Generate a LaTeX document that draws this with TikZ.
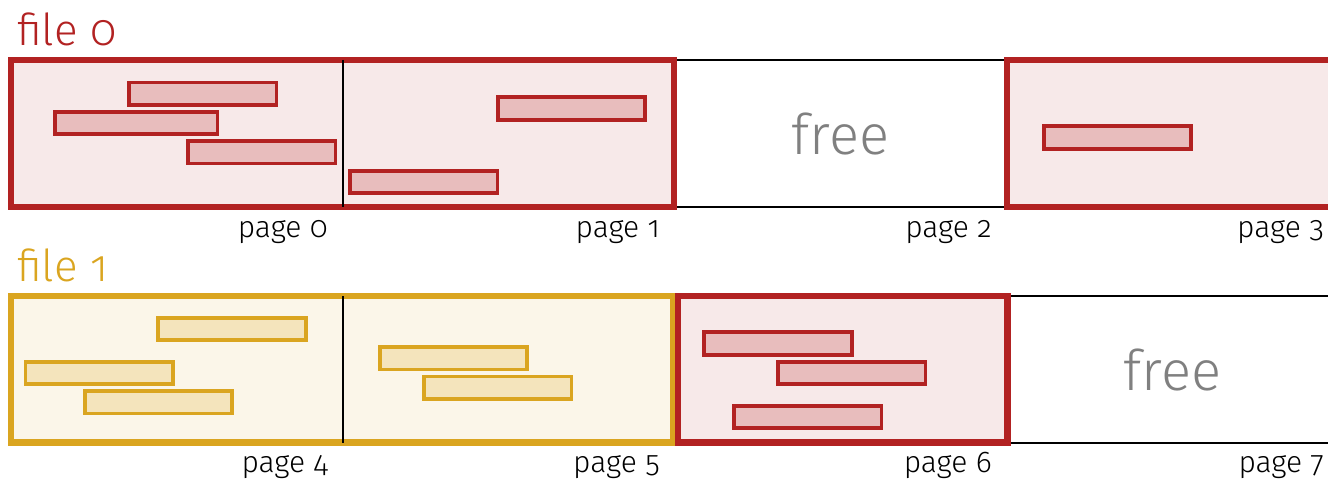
\documentclass[tikz,border=0pt]{standalone}
\usepackage{fontspec}
\setmainfont{Fira Sans}[UprightFont={* Light},Numbers=OldStyle]
\definecolor{fred}{RGB}{178,34,34}
\definecolor{fgold}{RGB}{218,165,32}
\definecolor{fgray}{RGB}{128,128,128}
\tikzset{
  pageline/.style={black,line width=2pt},
  filebox/.style={line width=6.2pt,draw=#1,fill=#1!10},
  rec/.style={draw=#1,fill=#1!30,line width=3.8pt,rectangle,inner sep=0pt,
              minimum width=147.5pt,minimum height=22.5pt},
  pagelabel/.style={anchor=base east,inner sep=0pt,font=\fontsize{30}{30}\selectfont},
  filelabel/.style={anchor=base west,inner sep=0pt,text=#1,font=\fontsize{44}{44}\selectfont},
  freelabel/.style={anchor=base,inner sep=0pt,text=fgray,font=\fontsize{56}{56}\selectfont},
}
\begin{document}
\begin{tikzpicture}[x=1pt,y=-1pt]
\useasboundingbox (0,0) rectangle (1328,481);
\clip (0,0) rectangle (1328,481);

% ---- file 0 row: page outlines ----
\draw[pageline] (11,60) -- (1345,60);
\draw[pageline] (11,207) -- (1345,207);
\filldraw[filebox=fred] (11,60) rectangle (674,207);
\draw[pageline] (343,60) -- (343,207);
\filldraw[filebox=fred] (1007,60) rectangle (1350,207);

% ---- file 1 row: page outlines ----
\draw[pageline] (11,296) -- (1345,296);
\draw[pageline] (11,442.5) -- (1345,442.5);
\filldraw[filebox=fgold] (11,296) rectangle (673,442.5);
\draw[pageline] (343,296) -- (343,442.5);
\filldraw[filebox=fred] (678,296) rectangle (1007.5,442.5);

% ---- records in file 0 ----
\node[rec=fred] (r1) at (202.7,93.7) {};
\node[rec=fred,minimum width=162.5pt] (r2) at (136.2,123) {};
\node[rec=fred] (r3) at (261.7,152.2) {};
\node[rec=fred] (r4) at (571.5,108.4) {};
\node[rec=fred] (r5) at (423.8,182) {};
\node[rec=fred] (r6) at (1117.5,137.5) {};

% ---- records in file 1 ----
\node[rec=fgold] (y1) at (232,329) {};
\node[rec=fgold] (y2) at (99.3,373) {};
\node[rec=fgold] (y3) at (158.5,402.2) {};
\node[rec=fgold] (y4) at (453.5,358.2) {};
\node[rec=fgold] (y5) at (497.8,387.7) {};
\node[rec=fred] (r7) at (778,343.5) {};
\node[rec=fred] (r8) at (851.8,373) {};
\node[rec=fred] (r9) at (807.7,417) {};

% ---- labels ----
\node[filelabel=fred] (f0) at (17,46) {file 0};
\node[filelabel=fgold] (f1) at (17,281.7) {file 1};
\node[freelabel] (free0) at (840.5,154.3) {free};
\node[freelabel] (free1) at (1172.5,390) {free};

\node[pagelabel] (p0) at (328,237.5) {page 0};
\node[pagelabel] (p1) at (660,237.5) {page 1};
\node[pagelabel] (p2) at (992,237.5) {page 2};
\node[pagelabel] (p3) at (1324,237.5) {page 3};
\node[pagelabel] (p4) at (328,472) {page 4};
\node[pagelabel] (p5) at (660,472) {page 5};
\node[pagelabel] (p6) at (992,472) {page 6};
\node[pagelabel] (p7) at (1324,472) {page 7};
\end{tikzpicture}
\end{document}
